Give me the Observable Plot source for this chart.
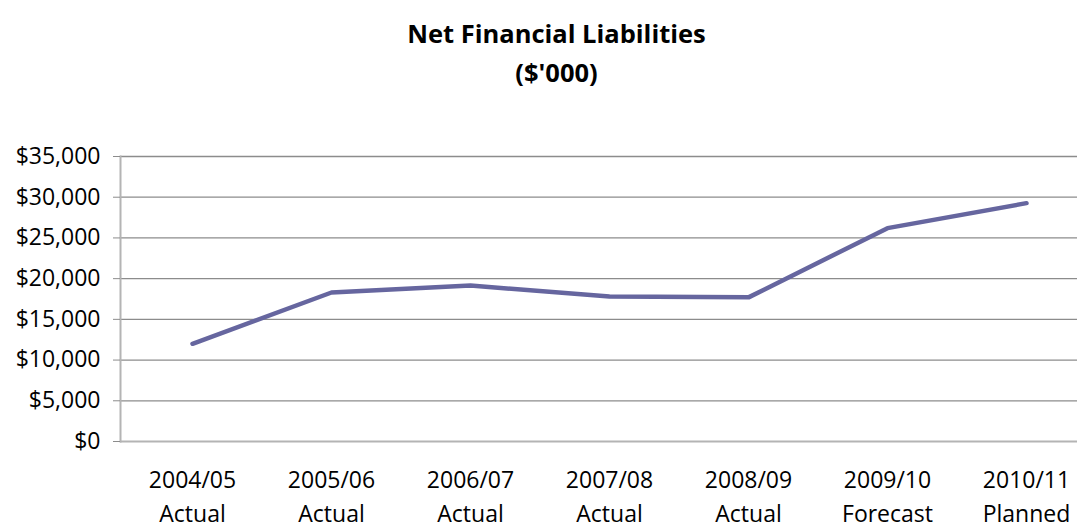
<!DOCTYPE html>
<html>
<head>
<meta charset="utf-8">
<script src="https://cdn.jsdelivr.net/npm/d3@7"></script>
<script src="https://cdn.jsdelivr.net/npm/@observablehq/plot@0.6"></script>
<style>
  html, body { margin: 0; padding: 0; background: #fff; }
  #wrap { width: 1077px; position: relative; }
  #title { height: 100px; box-sizing: border-box; padding-top: 14px; text-align: center; padding-left: 36px;
           font-family: "Open Sans", sans-serif; font-weight: bold; font-size: 25.5px; line-height: 39px; color: #000; }
  svg { display: block; }
</style>
</head>
<body>
<div id="wrap">
  <div id="title">Net Financial Liabilities<br>($'000)</div>
  <div id="chart"></div>
</div>
<script>
const years = ["2004/05", "2005/06", "2006/07", "2007/08", "2008/09", "2009/10", "2010/11"];
const status = ["Actual", "Actual", "Actual", "Actual", "Actual", "Forecast", "Planned"];
const liabilities = [12000, 18300, 19150, 17800, 17700, 26200, 29270];
const yTicks = [0, 5000, 10000, 15000, 20000, 25000, 30000, 35000];

const data = years.map((y, i) => ({year: y, status: status[i], value: liabilities[i]}));
const labelOf = new Map(years.map((y, i) => [y, y + "\n" + status[i]]));

const chart = Plot.plot({
  width: 1077,
  height: 428,
  marginLeft: 120,
  marginRight: 0,
  marginTop: 56,
  marginBottom: 87,
  style: {fontFamily: "Open Sans, sans-serif", fontSize: "23px", color: "#000", background: "#fff"},
  x: {type: "point", domain: years, range: [120, 1097], padding: 0.5},
  y: {domain: [0, 35000]},
  marks: [
    Plot.ruleY(yTicks.slice(1), {stroke: "#8c8c8c", strokeWidth: 1.3}),
    Plot.ruleY([0], {stroke: "#b4b4b4", strokeWidth: 2}),
    Plot.frame({anchor: "left", stroke: "#b4b4b4", strokeWidth: 2}),
    Plot.axisY({ticks: yTicks, tickSize: 7, tickPadding: 13, stroke: "#8c8c8c",
      tickFormat: d => "$" + d3.format(",")(d), label: null, fill: "#000"}),
    Plot.axisX({tickSize: 0, tickPadding: 23, tickFormat: d => labelOf.get(d), lineHeight: 1.45,
      label: null, fill: "#000"}),
    Plot.line(data, {x: "year", y: "value", stroke: "#66669f", strokeWidth: 4.5,
      strokeLinecap: "round", strokeLinejoin: "round"})
  ]
});
document.getElementById("chart").appendChild(chart);
</script>
</body>
</html>
